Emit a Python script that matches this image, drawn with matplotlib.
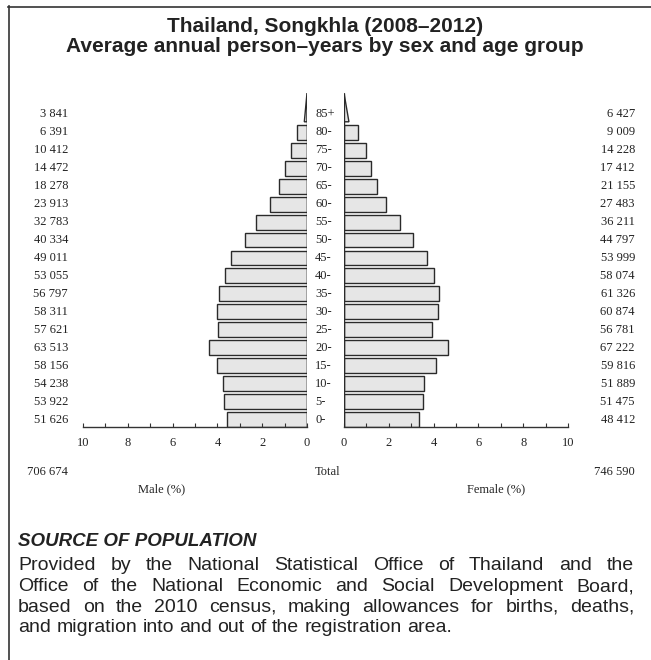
import matplotlib
matplotlib.use("Agg")
import matplotlib.pyplot as plt
from matplotlib import transforms
from matplotlib.lines import Line2D
from matplotlib.patches import Polygon

W, H = 651, 660

ages = ["0-", "5-", "10-", "15-", "20-", "25-", "30-", "35-", "40-", "45-",
        "50-", "55-", "60-", "65-", "70-", "75-", "80-", "85+"]
male = [51626, 53922, 54238, 58156, 63513, 57621, 58311, 56797, 53055, 49011,
        40334, 32783, 23913, 18278, 14472, 10412, 6391, 3841]
female = [48412, 51475, 51889, 59816, 67222, 56781, 60874, 61326, 58074, 53999,
          44797, 36211, 27483, 21155, 17412, 14228, 9009, 6427]
male_total = 706674
female_total = 746590
wedge_male = 0.12
wedge_female = 0.22

xticks = [0, 2, 4, 6, 8, 10]

title_lines = ["Thailand, Songkhla (2008\u20132012)",
               "Average annual person\u2013years by sex and age group"]
source_head = "SOURCE OF POPULATION"
source_lines = [
    "Provided by the National Statistical Office of Thailand and the",
    "Office of the National Economic and Social Development Board,",
    "based on the 2010 census, making allowances for births, deaths,",
    "and migration into and out of the registration area.",
]

SERIF = "Liberation Serif"
SANS = "Liberation Sans"
FACE = "#e6e6e6"
EDGE = "#2a2a2a"
INK = "#222222"


def fx(px):
    return px / W


def fy(py):
    return 1 - py / H


def fmt(v):
    return f"{v:,}".replace(",", " ")


def justified(fig, text, x0, x1, y, justify=True, **kw):
    words = text.split()
    renderer = fig.canvas.get_renderer()
    arts = [fig.text(0, fy(y), w, va="center", ha="left", **kw) for w in words]
    widths = [a.get_window_extent(renderer).width for a in arts]
    if justify and len(words) > 1:
        gap = (x1 - x0 - sum(widths)) / (len(words) - 1)
    else:
        sp = fig.text(0, 0, "a a", **kw)
        sa = fig.text(0, 0, "aa", **kw)
        gap = sp.get_window_extent(renderer).width - sa.get_window_extent(renderer).width
        sp.remove()
        sa.remove()
    x = x0
    for a, w in zip(arts, widths):
        a.set_x(fx(x))
        x += w + gap


grand = male_total + female_total
male_pct = [v / grand * 100 for v in male]
female_pct = [v / grand * 100 for v in female]
ypos = list(range(len(ages)))
bar_h = 0.83
y0 = -bar_h / 2

fig = plt.figure(figsize=(W / 100, H / 100), dpi=100)

axL = fig.add_axes([fx(83), fy(427), 224 / W, 336 / H])
axR = fig.add_axes([fx(344), fy(427), 224 / W, 336 / H])

for ax, pct, wedge in ((axL, male_pct, wedge_male), (axR, female_pct, wedge_female)):
    ax.barh(ypos[:-1], pct[:-1], height=bar_h, color=FACE, edgecolor=EDGE, linewidth=1.0)
    top = ypos[-1] - bar_h / 2
    ax.add_patch(Polygon([(0, top), (0, top + 1.6), (wedge, top)], closed=True,
                         facecolor=FACE, edgecolor=EDGE, linewidth=1.0))
    ax.plot([0, 0], [y0, top + 1.6], color=EDGE, linewidth=1.0, solid_capstyle="butt")
    ax.set_ylim(y0, 18.3)
    ax.set_xticks(xticks)
    ax.set_xticks(range(1, 10, 2), minor=True)
    ax.tick_params(axis="x", which="both", direction="in", length=3, width=0.8,
                   color="#333333", pad=7, labelsize=9, labelcolor=INK)
    for lab in ax.get_xticklabels():
        lab.set_fontfamily(SERIF)
    ax.set_yticks([])
    for s in ("left", "right", "top"):
        ax.spines[s].set_visible(False)
    ax.spines["bottom"].set_color("#333333")
    ax.spines["bottom"].set_linewidth(1.0)
    ax.patch.set_alpha(0)

axL.set_xlim(10, 0)
axR.set_xlim(0, 10)

trans = transforms.blended_transform_factory(fig.transFigure, axL.transData)
for y, a, m, f in zip(ypos, ages, male, female):
    fig.text(fx(68), y, fmt(m), transform=trans, ha="right", va="center",
             family=SERIF, fontsize=9, color=INK)
    fig.text(fx(315), y, a, transform=trans, ha="left", va="center",
             family=SERIF, fontsize=9, color=INK)
    fig.text(fx(635), y, fmt(f), transform=trans, ha="right", va="center",
             family=SERIF, fontsize=9, color=INK)

fig.text(fx(68), fy(472), fmt(male_total), ha="right", va="center", family=SERIF, fontsize=9, color=INK)
fig.text(fx(315), fy(472), "Total", ha="left", va="center", family=SERIF, fontsize=9, color=INK)
fig.text(fx(635), fy(472), fmt(female_total), ha="right", va="center", family=SERIF, fontsize=9, color=INK)
fig.text(fx(162), fy(489), "Male (%)", ha="center", va="center", family=SERIF, fontsize=9, color=INK)
fig.text(fx(496), fy(489), "Female (%)", ha="center", va="center", family=SERIF, fontsize=9, color=INK)

for i, line in enumerate(title_lines):
    fig.text(fx(325), fy(27 + i * 20), line, ha="center", va="center", family=SANS,
             fontsize=15, fontweight="bold", color=INK)

fig.text(fx(18), fy(542), source_head, ha="left", va="center", family=SANS,
         fontsize=13.5, fontweight="bold", fontstyle="italic", color=INK)
for i, line in enumerate(source_lines):
    justified(fig, line, 18, 634, 566 + i * 20.5, justify=i < len(source_lines) - 1,
              family=SANS, fontsize=14, color=INK)

fig.add_artist(Line2D([fx(8), 1], [fy(6.5), fy(6.5)], color="#333333", linewidth=1.2))
fig.add_artist(Line2D([fx(8.5), fx(8.5)], [fy(6), 0], color="#333333", linewidth=1.2))

fig.savefig("out.png", dpi=100)
